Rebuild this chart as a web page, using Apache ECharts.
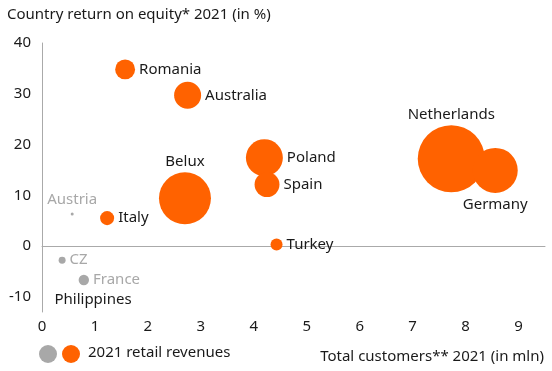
<!DOCTYPE html>
<html>
<head>
<meta charset="utf-8">
<script src="https://cdn.jsdelivr.net/npm/echarts@6/dist/echarts.min.js"></script>
<style>html,body{margin:0;padding:0;background:#fff}#c{width:552px;height:371px}</style>
</head>
<body>
<div id="c"></div>
<script>
// Data
var countries = ['Romania','Australia','Belux','Italy','Austria','CZ','France','Philippines','Poland','Spain','Turkey','Netherlands','Germany'];
var customers = [1.57, 2.75, 2.70, 1.23, 0.57, 0.38, 0.79, 0.15, 4.20, 4.25, 4.43, 7.73, 8.56];   // mln
var roe       = [34.8, 29.7, 9.4, 5.5, 6.3, -2.8, -6.7, -10.6, 17.4, 12.1, 0.3, 17.2, 14.9];      // %
var revenues  = [0.44, 0.81, 3.0, 0.22, 0.01, 0.054, 0.12, 0, 1.52, 0.69, 0.16, 5.0, 2.25];       // relative retail revenues
var group     = ['o','o','o','o','g','g','g','o','o','o','o','o','o'];
var labelPos  = ['right','right','top','right','top','right','right','right','right','right','right','top','bottom'];
var xTicks = [0,1,2,3,4,5,6,7,8,9];
var yTicks = [-10,0,10,20,30,40];

var ORANGE = '#FF6200', GREY = '#A8A8A8', TEXT = '#1A1A1A';
var FONT = 'Noto Sans';
var FS = 15;

var data = countries.map(function(n, i){
  var g = group[i] === 'g';
  return {
    name: n,
    value: [customers[i], roe[i], revenues[i]],
    itemStyle: {color: revenues[i] > 0 ? (g ? GREY : ORANGE) : 'rgba(0,0,0,0)', opacity: 1},
    label: {
      show: true, formatter: n, position: labelPos[i],
      distance: labelPos[i] === 'top' ? (g ? 5 : 3) : 4,
      color: g ? GREY : TEXT, fontSize: FS, fontFamily: FONT
    }
  };
});

var chart = echarts.init(document.getElementById('c'), null, {renderer: 'canvas'});
chart.setOption({
  animation: false,
  title: [
    {text: 'Country return on equity* 2021 (in %)', left: 2, top: 2,
     textStyle: {fontSize: FS, fontWeight: 'normal', color: TEXT, fontFamily: FONT}},
    {text: 'Total customers** 2021 (in mln)', right: 3, top: 344,
     textStyle: {fontSize: FS, fontWeight: 'normal', color: TEXT, fontFamily: FONT}}
  ],
  graphic: [
    {type: 'circle', shape: {cx: 48, cy: 354, r: 9}, style: {fill: GREY}},
    {type: 'circle', shape: {cx: 71, cy: 354, r: 9}, style: {fill: ORANGE}},
    {type: 'text', left: 88, top: 345, style: {text: '2021 retail revenues', fill: TEXT, font: FS + 'px "Noto Sans"'}}
  ],
  grid: {left: 42, right: 7, top: 43, bottom: 59, containLabel: false},
  xAxis: {
    type: 'value', min: 0, max: 9.5,
    axisLine: {show: true, lineStyle: {color: '#AAAAAA'}},
    axisTick: {show: false}, splitLine: {show: false},
    axisLabel: {customValues: xTicks, color: TEXT, fontSize: FS, fontFamily: FONT, margin: 7}
  },
  yAxis: {
    type: 'value', min: -13, max: 40,
    axisLine: {show: true, lineStyle: {color: '#AAAAAA'}},
    axisTick: {show: false}, splitLine: {show: false},
    axisLabel: {customValues: yTicks, color: TEXT, fontSize: FS, fontFamily: FONT, margin: 11}
  },
  series: [{
    type: 'scatter',
    symbolSize: function(v){ return Math.max(1, 30 * Math.sqrt(v[2])); },
    itemStyle: {opacity: 1},
    data: data
  }]
});
</script>
</body>
</html>
